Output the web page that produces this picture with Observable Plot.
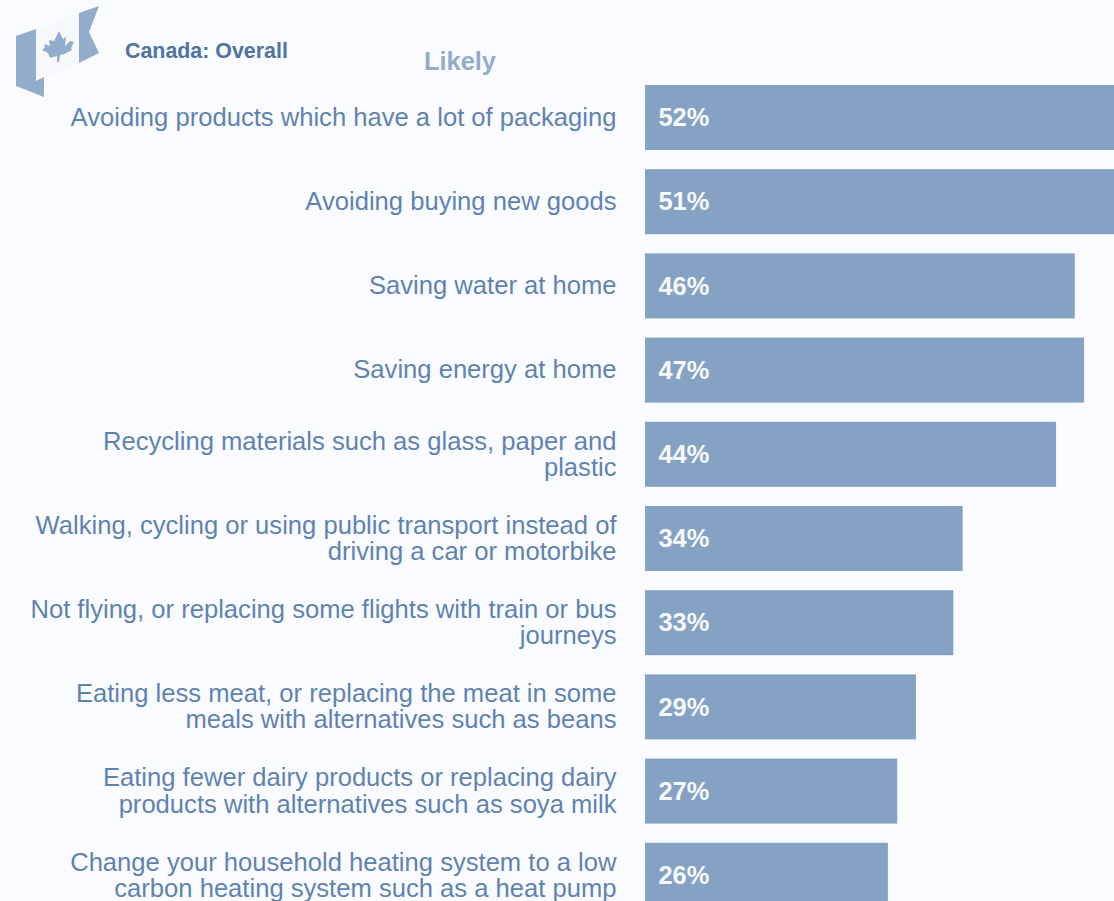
<!DOCTYPE html>
<html>
<head>
<meta charset="utf-8">
<script src="https://cdn.jsdelivr.net/npm/d3@7"></script>
<script src="https://cdn.jsdelivr.net/npm/@observablehq/plot@0.6"></script>
<style>
html,body{margin:0;padding:0;background:#fafbfe;overflow:hidden}
#wrap{position:relative;width:1114px;height:901px;font-family:"Liberation Sans",Arial,sans-serif}
.t{position:absolute;white-space:nowrap;font-weight:bold;line-height:1}
</style>
</head>
<body>
<div id="wrap">
<svg id="flag" width="110" height="100" viewBox="0 0 110 100" style="position:absolute;left:0;top:0">
<polygon points="36,29 79,13 79,63 44,77 36,81" fill="#f6f8fc"/>
<polygon points="16,36 36,29 36,81 44,77 44,97 16,86" fill="#94accb"/>
<polygon points="79,13 99,6 89,32 99,53 79,63" fill="#94accb"/>
<polygon points="59,31 63,39 66,37 65,46 70,41 74,42 71,48 72,50 64,54 60,55 59,62 57,62 57,56 50,58 48,53 42,50 45,47 44,44 50,46 49,40 54,41" fill="#94accb"/>
</svg>
<div class="t" style="left:125px;top:41px;font-size:21.4px;color:#4f74a3">Canada: Overall</div>
<div class="t" style="left:424px;top:49px;font-size:25.4px;color:#94abca">Likely</div>
</div>
<script>
const labels = [
  "Avoiding products which have a lot of packaging",
  "Avoiding buying new goods",
  "Saving water at home",
  "Saving energy at home",
  "Recycling materials such as glass, paper and\nplastic",
  "Walking, cycling or using public transport instead of\ndriving a car or motorbike",
  "Not flying, or replacing some flights with train or bus\njourneys",
  "Eating less meat, or replacing the meat in some\nmeals with alternatives such as beans",
  "Eating fewer dairy products or replacing dairy\nproducts with alternatives such as soya milk",
  "Change your household heating system to a low\ncarbon heating system such as a heat pump"
];
const values = [52, 51, 46, 47, 44, 34, 33, 29, 27, 26];
const rows = labels.map((label, i) => ({label, value: values[i]}));

const chart = Plot.plot({
  width: 1114,
  height: 901,
  marginLeft: 645,
  marginRight: 0,
  marginTop: 0,
  marginBottom: 0,
  style: {background: "transparent", fontFamily: '"Liberation Sans",Arial,sans-serif'},
  x: {domain: [0, 50.2], axis: null},
  y: {domain: labels, range: [65.8, 927], padding: 0.228, round: false, axis: null},
  marks: [
    Plot.barX(rows, {x: "value", y: "label", fill: "#85a2c4", clip: true}),
    Plot.text(rows, {x: 0, y: "label", text: "label", textAnchor: "end", dx: -29, dy: -0.5, fill: "#5f83b1", fontSize: 25.6, lineHeight: 1.02, lineAnchor: "middle"}),
    Plot.text(rows, {x: 0, y: "label", text: d => d.value + "%", textAnchor: "start", dx: 13, fill: "#f7f9fc", fontSize: 25.4, fontWeight: "bold"})
  ]
});
document.getElementById("wrap").appendChild(chart);
chart.style.position = "absolute";
chart.style.left = "0";
chart.style.top = "0";
</script>
</body>
</html>
